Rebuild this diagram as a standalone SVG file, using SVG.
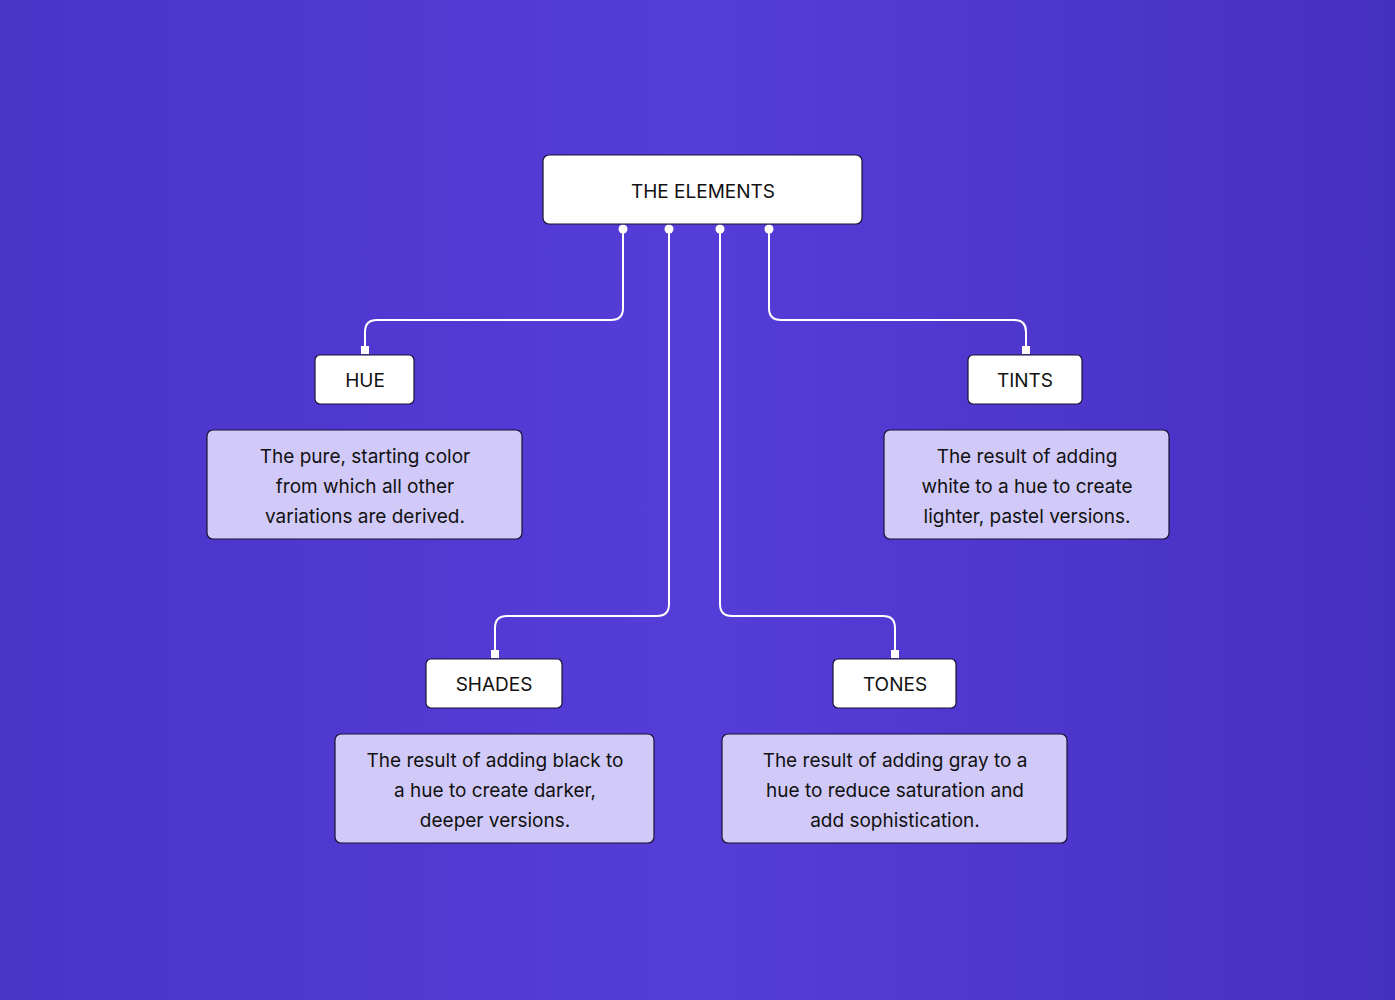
<svg xmlns="http://www.w3.org/2000/svg" width="1395" height="1000" viewBox="0 0 1395 1000">
<defs>
<linearGradient id="bg" x1="0" y1="0" x2="1" y2="0">
<stop offset="0" stop-color="#4a34c8"/><stop offset="0.5" stop-color="#553dd8"/><stop offset="1" stop-color="#4630c0"/>
</linearGradient>
</defs>
<style>
.n{fill:#fff;stroke:#1a1330;stroke-width:1.2}
.d{fill:#d1caf9;stroke:#1a1330;stroke-width:1.2}
.t{font-family:Inter,"Liberation Sans",sans-serif;font-size:19px;fill:#111;text-anchor:middle}
.c{fill:none;stroke:#fff;stroke-width:2}
</style>
<rect width="1395" height="1000" fill="url(#bg)"/>
<g id="connectors">
<path class="c" d="M623 229 V308 Q623 320 611 320 H377 Q365 320 365 332 V350"/>
<path class="c" d="M669 229 V604 Q669 616 657 616 H507 Q495 616 495 628 V654"/>
<path class="c" d="M720 229 V604 Q720 616 732 616 H883 Q895 616 895 628 V654"/>
<path class="c" d="M769 229 V308 Q769 320 781 320 H1014 Q1026 320 1026 332 V350"/>
<g fill="#fff"><circle cx="623" cy="229" r="4.5"/><circle cx="669" cy="229" r="4.5"/><circle cx="720" cy="229" r="4.5"/><circle cx="769" cy="229" r="4.5"/>
<rect x="361" y="346" width="8" height="8"/><rect x="491" y="650" width="8" height="8"/><rect x="891" y="650" width="8" height="8"/><rect x="1022" y="346" width="8" height="8"/></g>
</g>
<g id="root"><rect class="n" x="543" y="155" width="319" height="69" rx="6"/><text class="t" x="703" y="198" font-size="22">THE ELEMENTS</text></g>
<g id="hue"><rect class="n" x="315" y="355" width="99" height="49" rx="5"/><text class="t" x="365" y="387">HUE</text></g>
<g id="tints"><rect class="n" x="968" y="355" width="114" height="49" rx="5"/><text class="t" x="1025" y="387">TINTS</text></g>
<g id="shades"><rect class="n" x="426" y="659" width="136" height="49" rx="5"/><text class="t" x="494" y="691">SHADES</text></g>
<g id="tones"><rect class="n" x="833" y="659" width="123" height="49" rx="5"/><text class="t" x="895" y="691">TONES</text></g>
<g id="hue-desc"><rect class="d" x="207" y="430" width="315" height="109" rx="6"/><text class="t" x="365" y="463">The pure, starting color</text><text class="t" x="365" y="493">from which all other</text><text class="t" x="365" y="523">variations are derived.</text></g>
<g id="tints-desc"><rect class="d" x="884" y="430" width="285" height="109" rx="6"/><text class="t" x="1027" y="463">The result of adding</text><text class="t" x="1027" y="493">white to a hue to create</text><text class="t" x="1027" y="523">lighter, pastel versions.</text></g>
<g id="shades-desc"><rect class="d" x="335" y="734" width="319" height="109" rx="6"/><text class="t" x="495" y="767">The result of adding black to</text><text class="t" x="495" y="797">a hue to create darker,</text><text class="t" x="495" y="827">deeper versions.</text></g>
<g id="tones-desc"><rect class="d" x="722" y="734" width="345" height="109" rx="6"/><text class="t" x="895" y="767">The result of adding gray to a</text><text class="t" x="895" y="797">hue to reduce saturation and</text><text class="t" x="895" y="827">add sophistication.</text></g>
</svg>
